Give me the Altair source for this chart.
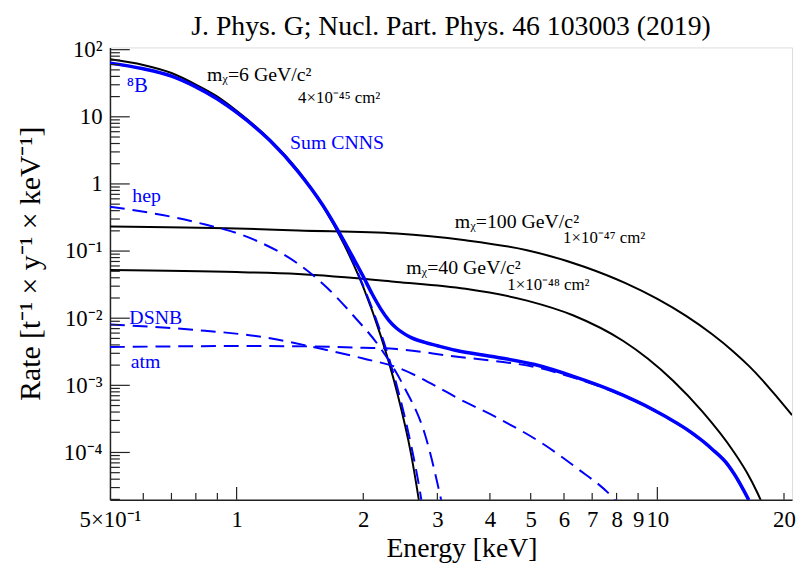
import altair as alt
import pandas as pd

# ---------------- values ----------------
# Energy [keV] and rate [t^-1 y^-1 keV^-1]
wimp6_E = [0.5, 0.6, 0.7, 0.8, 0.9, 1.0, 1.2, 1.4, 1.6, 1.8, 2.0, 2.2, 2.4, 2.6, 2.7, 2.75]
wimp6_R = [71.9, 59.2, 44.9, 30.2, 20.0, 12.3, 4.57, 1.58, 0.481, 0.126, 0.029, 0.0055,
           8.4e-4, 9.2e-5, 2.3e-5, 1.1e-5]

wimp100_E = [0.5, 1.0, 1.4, 2.4, 3.5, 4.9, 6.7, 8.4, 10.0, 11.7, 13.5, 15.1, 16.5, 17.7, 19.3, 20.9]
wimp100_R = [0.232, 0.217, 0.203, 0.183, 0.145, 0.103, 0.0585, 0.0333, 0.0194, 0.01084,
             0.00577, 0.00326, 0.00195, 0.00123, 6.56e-4, 3.6e-4]

wimp40_E = [0.5, 1.0, 1.4, 2.4, 3.5, 4.9, 6.3, 8.3, 9.5, 10.9, 12.8, 15.1, 16.3, 17.3, 17.8]
wimp40_R = [0.0521, 0.0486, 0.0455, 0.0347, 0.0274, 0.0183, 0.01107, 0.00457, 0.00249,
            0.00117, 4.05e-4, 1.08e-4, 5.1e-5, 2.49e-5, 1.67e-5]

sum_E = [0.5, 0.6, 0.7, 0.8, 0.9, 1.0, 1.2, 1.4, 1.6, 1.8, 1.9, 2.0, 2.1, 2.2, 2.3, 2.4, 2.5,
         2.6, 2.8, 3.0, 3.31, 4.12, 5.11, 6.34, 7.87, 9.78, 12.2, 13.5, 14.7, 15.3, 16.5]
sum_R = [63.1, 51.9, 40.3, 27.9, 18.4, 11.6, 4.42, 1.53, 0.49, 0.141, 0.0759, 0.0417, 0.0229,
         0.0138, 0.0093, 0.00708, 0.00589, 0.00513, 0.00437, 0.00389, 0.00333, 0.00265,
         0.00204, 0.00135, 8.2e-4, 4.33e-4, 1.87e-4, 1.12e-4, 6.6e-5, 4.57e-5, 1.95e-5]

b8_E = [0.5, 0.6, 0.7, 0.8, 0.9, 1.0, 1.2, 1.4, 1.6, 1.8, 2.0, 2.2, 2.4, 2.6, 2.7, 2.78]
b8_R = [62.7, 51.5, 40.0, 27.7, 18.3, 11.5, 4.37, 1.51, 0.479, 0.135, 0.0302, 0.00617,
        0.00102, 1.26e-4, 3.8e-5, 1.26e-5]

hep_E = [0.5, 0.8, 1.1, 1.4, 1.65, 1.9, 2.2, 2.5, 2.8, 3.1]
hep_R = [0.458, 0.269, 0.148, 0.0646, 0.0275, 0.0107, 0.00355, 9.5e-4, 1.9e-4, 1.4e-5]

dsnb_E = [0.5, 0.8, 1.15, 1.55, 2.0, 2.4, 3.0, 3.3, 4.2, 5.4, 6.4, 7.9, 8.1]
dsnb_R = [0.00805, 0.00668, 0.00525, 0.00363, 0.00251, 0.00186, 9.5e-4, 6.8e-4, 3.2e-4,
          1.29e-4, 6.0e-5, 2.0e-5, 1.66e-5]

atm_E = [0.5, 0.7, 1.0, 1.5, 2.0, 2.4, 3.31, 4.12, 5.11, 6.34, 7.87, 9.78, 12.2, 13.5, 14.7,
         15.3, 16.5]
atm_R = [0.00372, 0.0038, 0.00385, 0.0038, 0.00363, 0.00347, 0.00268, 0.0023, 0.00188,
         0.00129, 8.0e-4, 4.25e-4, 1.83e-4, 1.1e-4, 6.5e-5, 4.5e-5, 1.9e-5]

# axis ticks / labels
x_tick_values = [0.5, 1, 2, 3, 4, 5, 6, 7, 8, 9, 10, 20]
x_tick_labels = ["5×10⁻¹", "1", "2", "3", "4", "5", "6", "7", "8", "9", "10", "20"]
y_tick_values = [1e-4, 1e-3, 1e-2, 1e-1, 1, 10, 100]
y_tick_labels = ["10⁻⁴", "10⁻³", "10⁻²", "10⁻¹", "1", "10", "10²"]
x_major_ticks = [1, 10]
x_minor_ticks = [0.6, 0.7, 0.8, 0.9, 2, 3, 4, 5, 6, 7, 8, 9, 20]
y_major_ticks = [1e-4, 1e-3, 1e-2, 1e-1, 1, 10, 100]
y_minor_ticks = [m * 10.0 ** k for k in range(-5, 2) for m in range(2, 10)
                 if 1.97e-5 <= m * 10.0 ** k <= 108]

# annotations
ann_text = ["⁸B", "mᵪ=6 GeV/c²", "4×10⁻⁴⁵ cm²", "Sum CNNS", "hep",
            "mᵪ=100 GeV/c²", "1×10⁻⁴⁷ cm²", "mᵪ=40 GeV/c²", "1×10⁻⁴⁸ cm²", "DSNB", "atm"]
ann_E = [0.548, 0.85, 1.40, 1.34, 0.565, 3.30, 5.97, 2.53, 4.40, 0.556, 0.56]
ann_R = [28.9, 41.9, 19.2, 4.02, 0.665, 0.266, 0.154, 0.0557, 0.0313, 0.0102, 0.00221]
ann_color = ["#0000ff", "black", "black", "#0000ff", "#0000ff", "black", "black", "black",
             "black", "#0000ff", "#0000ff"]
ann_size = [21, 20, 17, 20, 20, 20, 17, 20, 17, 20, 20]

TITLE = "J. Phys. G; Nucl. Part. Phys. 46 103003 (2019)"
FONT = "Liberation Serif"
BLUE = "#0000ff"
W, H = 689, 457

# ---------------- build tables ----------------
series = [("wimp6", wimp6_E, wimp6_R), ("wimp100", wimp100_E, wimp100_R),
          ("wimp40", wimp40_E, wimp40_R), ("sum", sum_E, sum_R), ("b8", b8_E, b8_R),
          ("hep", hep_E, hep_R), ("dsnb", dsnb_E, dsnb_R), ("atm", atm_E, atm_R)]
rows = []
for name, es, rs in series:
    for i, (e, r) in enumerate(zip(es, rs)):
        rows.append({"series": name, "E": e, "R": r, "i": i})
df = pd.DataFrame(rows)

ann = pd.DataFrame({"t": ann_text, "E": ann_E, "R": ann_R, "c": ann_color, "s": ann_size})


def label_expr(values, labels):
    expr = "''"
    for v, l in reversed(list(zip(values, labels))):
        expr = f"abs(datum.value - {v}) < {v * 1e-3} ? '{l}' : ({expr})"
    return expr


xscale = alt.Scale(type="log", domain=[0.5, 20.9], nice=False)
yscale = alt.Scale(type="log", domain=[1.97e-5, 108], nice=False)

xaxis = alt.Axis(values=x_tick_values, labelExpr=label_expr(x_tick_values, x_tick_labels),
                 title="Energy [keV]", ticks=False, grid=False, labelOverlap=False,
                 labelFlush=False, labelPadding=9, labelFontSize=23, labelFont=FONT,
                 labelColor="black", domainColor="#222", domainWidth=1.5,
                 titleFont=FONT, titleFontSize=28, titleFontWeight="normal", titleColor="black",
                 titleX=355, titleY=57, titleBaseline="alphabetic")
yaxis = alt.Axis(values=y_tick_values, labelExpr=label_expr(y_tick_values, y_tick_labels),
                 title="Rate [t⁻¹ × y⁻¹ × keV⁻¹]", ticks=False, grid=False, labelOverlap=False,
                 labelFlush=False, labelPadding=8, labelFontSize=23, labelFont=FONT,
                 labelColor="black", domainColor="#222", domainWidth=1.5,
                 titleFont=FONT, titleFontSize=30, titleFontWeight="normal", titleColor="black",
                 titleX=-80, titleY=218, titleBaseline="middle", titleAngle=-90)

X = alt.X("E:Q", scale=xscale, axis=xaxis)
Y = alt.Y("R:Q", scale=yscale, axis=yaxis)

base = alt.Chart(df)

black_lines = base.transform_filter(
    alt.FieldOneOfPredicate(field="series", oneOf=["wimp6", "wimp100", "wimp40"])
).mark_line(color="black", strokeWidth=2, interpolate="monotone", clip=True).encode(
    x=X, y=Y, detail="series:N", order="i:Q")

dashed = base.transform_filter(
    alt.FieldOneOfPredicate(field="series", oneOf=["b8", "hep", "dsnb", "atm"])
).mark_line(color=BLUE, strokeWidth=2, strokeDash=[15, 8], interpolate="monotone",
            clip=True).encode(x=X, y=Y, detail="series:N", order="i:Q")

sum_line = base.transform_filter(alt.datum.series == "sum").mark_line(
    color=BLUE, strokeWidth=3.5, interpolate="monotone", clip=True).encode(
    x=X, y=Y, order="i:Q")

labels = alt.Chart(ann).mark_text(align="left", baseline="middle", font=FONT).encode(
    x=X, y=Y, text="t:N",
    color=alt.Color("c:N", scale=None),
    size=alt.Size("s:Q", scale=None))


# ROOT-style inward ticks drawn through the scales
def yticks(vals, length):
    return alt.Chart(pd.DataFrame({"R": vals})).mark_rule(color="#222", strokeWidth=1.2).encode(
        y=Y, x=alt.value(0), x2=alt.value(length))


def xticks(vals, length):
    return alt.Chart(pd.DataFrame({"E": vals})).mark_rule(color="#222", strokeWidth=1.2).encode(
        x=X, y=alt.value(H), y2=alt.value(H - length))


chart = alt.layer(black_lines, dashed, sum_line, labels,
                  yticks(y_major_ticks, 20), yticks(y_minor_ticks, 10),
                  xticks(x_major_ticks, 13), xticks(x_minor_ticks, 7)).properties(
    width=W, height=H,
    title=alt.TitleParams(TITLE, font=FONT, fontSize=28, fontWeight="normal", color="black",
                          anchor="middle", offset=1, dy=3),
    autosize=alt.AutoSizeParams(type="none"),
    padding={"left": 103, "top": 37, "right": 4, "bottom": 63},
).configure_view(stroke="#666", strokeWidth=1.5).configure(background="white")

chart.save("out.html", embed_options={"renderer": "svg", "actions": False})
